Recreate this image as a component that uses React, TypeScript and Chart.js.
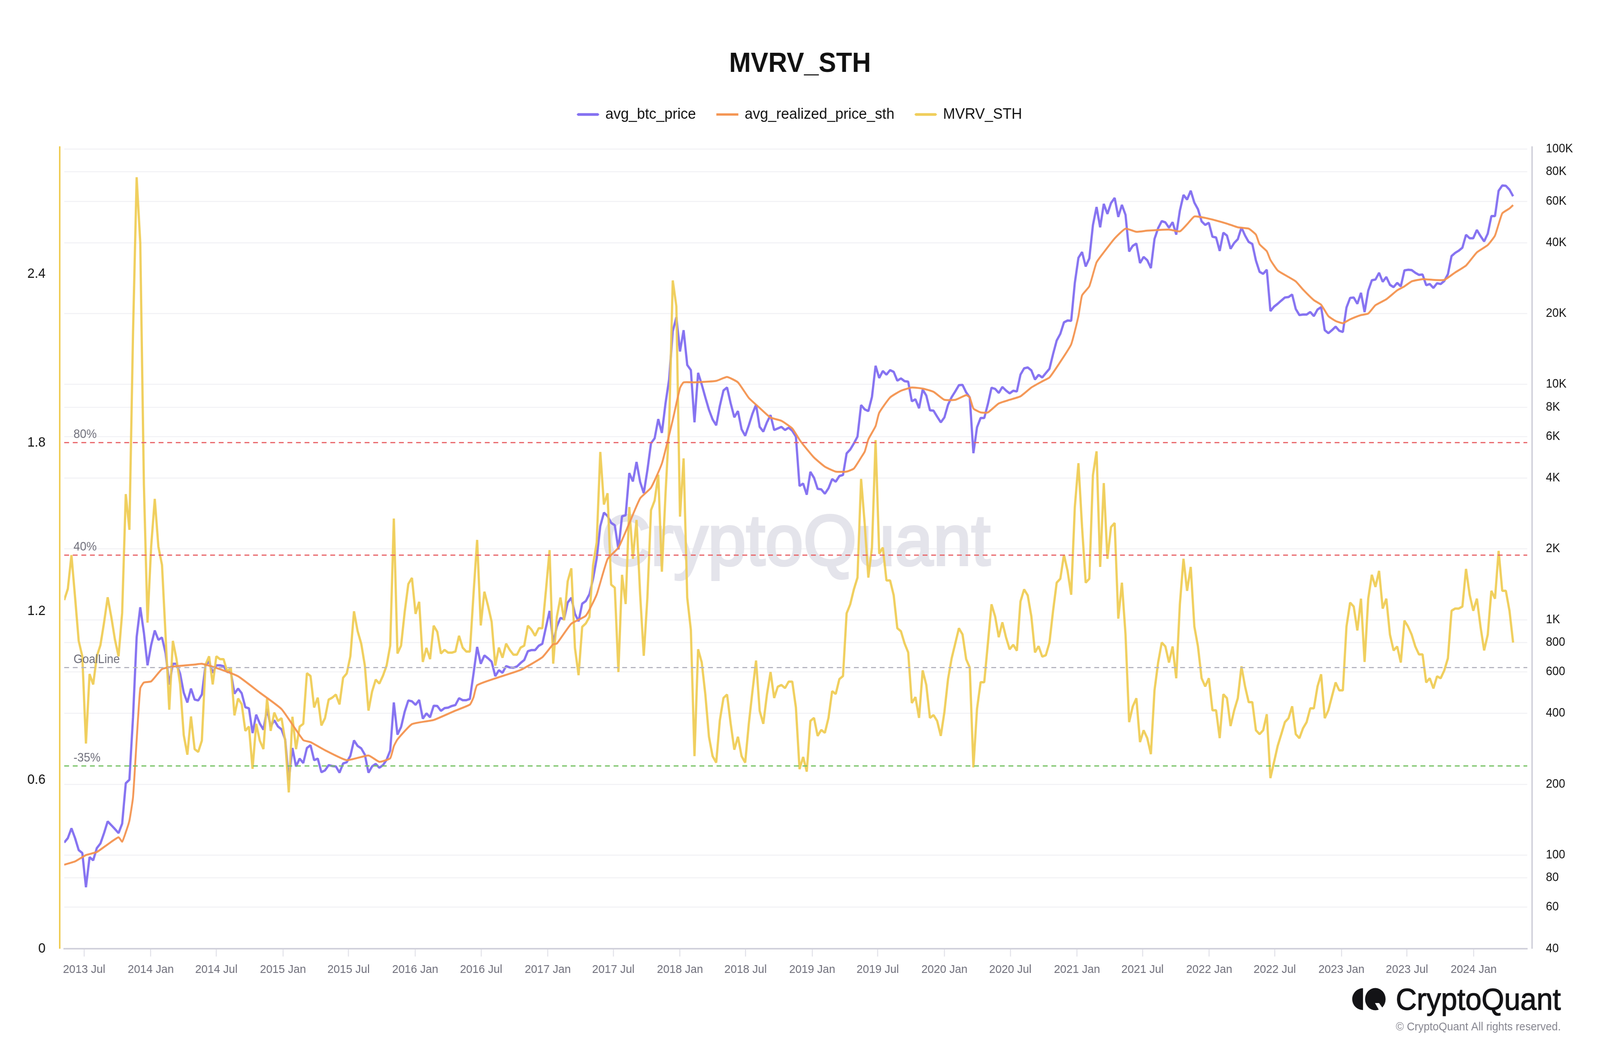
import React, { useEffect, useRef } from "react";
import { Chart, registerables } from "chart.js";

Chart.register(...registerables);

const FONT = '"Liberation Sans", Arial, sans-serif';
const TITLE = "MVRV_STH";
const FIRST_DAY = Date.UTC(2013, 4, 7);
const STEP_DAYS = 10;
const DAY_MS = 86400000;
const AXIS_X_MIN = Date.UTC(2013, 4, 7);
const AXIS_X_MAX = Date.UTC(2024, 4, 28);
const DESIGN_WIDTH = 4287;
const DESIGN_HEIGHT = 2700;

const xTickDates: [number, number][] = [
  [2013, 6], [2014, 0], [2014, 6], [2015, 0], [2015, 6], [2016, 0], [2016, 6], [2017, 0],
  [2017, 6], [2018, 0], [2018, 6], [2019, 0], [2019, 6], [2020, 0], [2020, 6], [2021, 0],
  [2021, 6], [2022, 0], [2022, 6], [2023, 0], [2023, 6], [2024, 0],
];
const leftTicks = [0, 0.6, 1.2, 1.8, 2.4];
const rightTicks = [40, 60, 80, 100, 200, 400, 600, 800, 1000, 2000, 4000, 6000, 8000, 10000, 20000, 40000, 60000, 80000, 100000];

// avg_btc_price, one reading every 10 days
const avgBtcPrice = [
  113, 118, 130, 118, 105, 102, 73, 98, 95, 107,
  112, 124, 139, 134, 129, 124, 136, 202, 209, 385,
  845, 1130, 880, 640, 780, 900, 822, 840, 720, 530,
  650, 650, 590, 490, 445, 510, 458, 454, 481, 640,
  665, 595, 640, 640, 635, 600, 600, 485, 510, 487,
  425, 420, 330, 395, 362, 341, 418, 352, 374, 352,
  342, 310, 208, 285, 238, 257, 246, 285, 293, 253,
  257, 225, 229, 241, 239, 238, 224, 245, 248, 264,
  307, 291, 284, 267, 224, 238, 244, 235, 241, 254,
  278, 445, 325, 350, 407, 454, 450, 435, 456, 380,
  400, 385, 431, 430, 410, 421, 423, 430, 434, 464,
  455, 455, 461, 590, 766, 650, 705, 686, 663, 576,
  610, 595, 635, 627, 625, 633, 655, 674, 735, 743,
  743, 775, 790, 930, 1090, 800, 935, 1018, 1005, 1183,
  1240, 1060, 985, 1170, 1200, 1285, 1490, 1820, 2500, 2850,
  2760, 2580, 2520, 1990, 2750, 2780, 4200, 3870, 4680, 3850,
  3450, 4320, 5620, 5900, 7120, 6220, 8300, 10500, 16800, 19300,
  13800, 17000, 12100, 11500, 6900, 11200, 10000, 8800, 7800, 7100,
  6700, 8100, 9420, 9700, 8300, 7250, 7700, 6450, 6050, 6700,
  7500, 8200, 6600, 6300, 6900, 7400, 6400, 6500, 6600, 6400,
  6550, 6350, 6000, 3700, 3790, 3400, 4250, 4010, 3600, 3580,
  3430, 3620, 3960, 3860, 4080, 4120, 5090, 5290, 5610, 6000,
  8170, 7830, 7700, 8850, 12000, 10650, 11400, 11000, 11500, 11300,
  10370, 10600, 10320, 10270, 8480, 8640, 7920, 9500, 8960, 7760,
  7730, 7290, 6900, 7240, 8200, 8830, 9340, 9920, 9950, 9250,
  8800, 5100, 6570, 7200, 7200, 8250, 9680, 9570, 9200, 9750,
  9420, 9160, 9400, 9330, 11000, 11700, 11800, 11470, 10490, 10970,
  10700, 11170, 11650, 13460, 15360, 16400, 18350, 18680, 18630, 27000,
  34500, 36500, 31700, 34300, 47500, 56700, 46500, 58500, 53000, 59000,
  62000, 51500, 57900, 52500, 36700, 38800, 39650, 32800, 34800, 33700,
  31200, 41500, 46100, 49400, 48800, 46300, 48900, 43300, 54700, 63800,
  61000, 66500, 59200, 55500, 49300, 47600, 48600, 42400, 42100, 36900,
  44100, 42900, 37700, 39900, 41400, 46400, 42900, 40300, 39500, 33600,
  30100, 29500, 30700, 20500, 21400, 22000, 22700, 23400, 23500, 24100,
  20900, 19700, 19800, 19800, 20300, 19500, 20800, 21300, 17000, 16500,
  17000, 17600, 16900, 16700, 21200, 23300, 23400, 22000, 24500, 20300,
  25000, 27700, 27900, 29800, 27300, 28600, 26500, 25900, 27000, 26100,
  30500, 30700, 30600, 29800, 29200, 29300, 26400, 26700, 25700, 26900,
  26700, 27500, 29400, 35100, 36200, 37000, 38100, 43200, 41800, 41800,
  45300, 42700, 40500, 43700, 51900, 51900, 66500, 70000, 69800, 67200,
  63000,
];

// MVRV_STH, one reading every 10 days
const mvrvSth = [
  1.24, 1.28, 1.4, 1.25, 1.095, 1.04, 0.73, 0.977, 0.94, 1.04,
  1.08, 1.16, 1.25, 1.18, 1.1, 1.04, 1.195, 1.617, 1.49, 2.19,
  2.744, 2.51, 1.65, 1.16, 1.43, 1.6, 1.43, 1.365, 1.11, 0.85,
  1.095, 1.03, 0.94, 0.76, 0.69, 0.826, 0.71, 0.7, 0.74, 1.01,
  1.04, 0.94, 1.04, 1.03, 1.03, 0.985, 1.0, 0.83, 0.89, 0.87,
  0.775, 0.79, 0.64, 0.8, 0.74, 0.71, 0.89, 0.775, 0.84, 0.81,
  0.82, 0.74, 0.556, 0.825, 0.71, 0.79, 0.8, 0.98, 0.97, 0.858,
  0.893, 0.794, 0.82, 0.886, 0.893, 0.904, 0.869, 0.964, 0.979, 1.04,
  1.2, 1.13, 1.085, 1.007, 0.847, 0.915, 0.957, 0.943, 0.971, 1.007,
  1.078, 1.53, 1.05, 1.078, 1.198, 1.297, 1.319, 1.191, 1.234, 1.02,
  1.07, 1.03, 1.149, 1.127, 1.05, 1.063, 1.053, 1.053, 1.057, 1.113,
  1.071, 1.057, 1.057, 1.262, 1.454, 1.15, 1.27, 1.22, 1.163, 1.007,
  1.071, 1.035, 1.085, 1.063, 1.046, 1.046, 1.071, 1.078, 1.149, 1.135,
  1.113, 1.14, 1.14, 1.276, 1.418, 1.014, 1.18, 1.249, 1.168, 1.307,
  1.353, 1.07, 0.973, 1.145, 1.157, 1.18, 1.364, 1.445, 1.767, 1.58,
  1.62, 1.295, 1.284, 0.984, 1.33, 1.226, 1.571, 1.387, 1.525, 1.26,
  1.042, 1.249, 1.56, 1.594, 1.686, 1.341, 1.617, 1.859, 2.377, 2.285,
  1.537, 1.744, 1.249, 1.134, 0.685, 1.065, 1.019, 0.904, 0.754, 0.685,
  0.662, 0.812, 0.892, 0.904, 0.8, 0.708, 0.754, 0.685, 0.662, 0.8,
  0.915, 1.025, 0.846, 0.8, 0.904, 0.984, 0.892, 0.932, 0.938, 0.927,
  0.95, 0.95, 0.858, 0.639, 0.682, 0.63, 0.81, 0.821, 0.757, 0.778,
  0.768, 0.821, 0.916, 0.906, 0.959, 0.97, 1.193, 1.225, 1.278, 1.32,
  1.671, 1.51, 1.32, 1.427, 1.809, 1.405, 1.427, 1.31, 1.31, 1.257,
  1.14, 1.129, 1.086, 1.054, 0.874, 0.895, 0.821, 0.99, 0.938, 0.821,
  0.831, 0.81, 0.757, 0.842, 0.959, 1.033, 1.086, 1.14, 1.118, 1.03,
  1.0, 0.645, 0.853, 0.948, 0.948, 1.086, 1.225, 1.182, 1.108, 1.161,
  1.108, 1.065, 1.081, 1.06, 1.235, 1.278, 1.257, 1.182, 1.054, 1.076,
  1.039, 1.044, 1.089, 1.202, 1.302, 1.316, 1.401, 1.344, 1.259, 1.571,
  1.727, 1.5, 1.302, 1.316, 1.684, 1.769, 1.358, 1.656, 1.387, 1.5,
  1.514, 1.174, 1.302, 1.117, 0.806, 0.862, 0.891, 0.735, 0.777, 0.749,
  0.692, 0.919, 1.018, 1.089, 1.075, 1.018, 1.075, 0.962, 1.224, 1.387,
  1.273, 1.358, 1.146, 1.075, 0.962, 0.933, 0.962, 0.848, 0.848, 0.749,
  0.905, 0.891, 0.792, 0.848, 0.891, 1.004, 0.933, 0.877, 0.877, 0.777,
  0.763, 0.777, 0.834, 0.607, 0.664, 0.721, 0.763, 0.806, 0.82, 0.862,
  0.763, 0.749, 0.784, 0.806, 0.855, 0.855, 0.933, 0.976, 0.82, 0.848,
  0.898, 0.947, 0.919, 0.919, 1.146, 1.231, 1.217, 1.132, 1.245, 1.02,
  1.245, 1.33, 1.287, 1.344, 1.21, 1.245, 1.117, 1.061, 1.075, 1.018,
  1.167, 1.146, 1.117, 1.075, 1.047, 1.047, 0.947, 0.962, 0.926, 0.969,
  0.962, 0.99, 1.033, 1.202, 1.21, 1.21, 1.217, 1.351, 1.259, 1.202,
  1.245, 1.146, 1.061, 1.117, 1.273, 1.245, 1.415, 1.273, 1.273, 1.202,
  1.089,
];

// avg_realized_price_sth: step number (10-day steps from the first day) and its reading
const realizedSteps = [
  0, 3, 6, 9, 12, 15, 16, 17, 18, 19, 20, 21, 22, 24, 27, 30, 36, 38, 42, 48,
  54, 60, 66, 68, 72, 78, 84, 87, 90, 91, 92, 96, 102, 108, 112, 113, 114, 120, 126, 132,
  135, 136, 140, 144, 147, 150, 153, 156, 159, 162, 165, 168, 170, 171, 174, 180, 183, 186, 189, 192,
  195, 198, 201, 203, 204, 207, 210, 213, 216, 218, 220, 221, 222, 224, 225, 228, 231, 234, 237, 240,
  243, 246, 249, 250, 251, 253, 255, 258, 261, 264, 267, 270, 272, 275, 278, 280, 281, 283, 285, 287,
  290, 293, 296, 299, 302, 305, 308, 310, 312, 315, 318, 321, 324, 327, 329, 330, 332, 333, 335, 338,
  340, 342, 345, 347, 349, 351, 353, 355, 358, 360, 362, 365, 368, 370, 372, 375, 378, 381, 384, 387,
  390, 393, 395, 397, 399, 400,
];
const realizedPrice = [
  91, 94, 100, 103, 111, 119, 114, 125, 140, 176, 308, 511, 541, 547, 617, 632, 645, 650, 624, 575,
  490, 417, 308, 302, 279, 253, 265, 249, 258, 290, 310, 360, 375, 411, 436, 468, 527, 570, 612, 693,
  787, 792, 962, 1040, 1280, 1810, 2024, 2570, 3280, 3640, 4610, 7060, 9650, 10200, 10200, 10350, 10750, 10200, 8760, 7940,
  7230, 7000, 6500, 5820, 5550, 4890, 4470, 4260, 4260, 4390, 4890, 5180, 5840, 6650, 7580, 8800, 9400, 9700, 9600, 9300,
  8600, 8600, 9000, 8800, 7900, 7600, 7600, 8300, 8600, 8900, 9700, 10300, 10700, 12470, 14800, 19500, 23900, 26100, 33000, 36400,
  41700, 45900, 44500, 45000, 45300, 45500, 44700, 47900, 51700, 51000, 49700, 48200, 46500, 45900, 43300, 39400, 36800, 33800, 30500, 28600,
  27400, 25300, 22800, 21800, 19500, 18600, 18200, 18900, 19700, 20000, 21700, 23000, 25100, 26100, 27400, 28000, 27800, 27800, 29900, 32000,
  36400, 39100, 42900, 53300, 55900, 57800,
];

const levelValues = [1.8, 1.4, 1.0, 0.65];
const levelLabels = ["80%", "40%", "GoalLine", "-35%"];
const levelColors = ["rgb(232,98,102)", "rgb(232,98,102)", "rgb(181,181,192)", "rgb(114,192,95)"];

const PURPLE = "rgba(127,108,240,0.95)";
const ORANGE = "rgba(243,146,78,0.95)";
const YELLOW = "rgba(239,203,80,0.92)";

const stepTime = (s: number) => FIRST_DAY + s * STEP_DAYS * DAY_MS;
const MONTHS = ["Jan", "Feb", "Mar", "Apr", "May", "Jun", "Jul", "Aug", "Sep", "Oct", "Nov", "Dec"];

const decorPlugin = {
  id: "decor",
  beforeInit(chart: any) {
    const fit = chart.legend.fit;
    chart.legend.fit = function () {
      fit.call(this);
      this.height += 52;
    };
  },
  beforeDatasetsDraw(chart: any) {
    const { ctx } = chart;
    ctx.save();
    ctx.fillStyle = "rgb(228,228,235)";
    ctx.strokeStyle = "rgb(228,228,235)";
    ctx.lineWidth = 6;
    ctx.font = `184px ${FONT}`;
    ctx.textAlign = "center";
    ctx.textBaseline = "alphabetic";
    ctx.fillText("CryptoQuant", 2132, 1446);
    ctx.strokeText("CryptoQuant", 2132, 1446);
    ctx.restore();
  },
  afterDraw(chart: any) {
    const { ctx, chartArea: a, scales } = chart;
    ctx.save();
    ctx.lineWidth = 4;
    ctx.strokeStyle = "rgb(239,203,80)";
    ctx.beginPath();
    ctx.moveTo(160, a.top);
    ctx.lineTo(160, a.bottom);
    ctx.stroke();
    ctx.strokeStyle = "rgb(209,209,219)";
    ctx.beginPath();
    ctx.moveTo(a.right + 13, a.top);
    ctx.lineTo(a.right + 13, a.bottom);
    ctx.stroke();

    ctx.fillStyle = "rgb(110,110,122)";
    ctx.font = `31px ${FONT}`;
    ctx.textAlign = "left";
    ctx.textBaseline = "middle";
    levelValues.forEach((v, i) => {
      ctx.fillText(levelLabels[i], a.left + 25, scales.y.getPixelForValue(v) - 20);
    });

    // brand block
    ctx.fillStyle = "rgb(19,19,22)";
    ctx.beginPath();
    ctx.ellipse(3652, 2557, 29, 28, 0, Math.PI / 2, Math.PI * 1.5);
    ctx.closePath();
    ctx.fill();
    ctx.beginPath();
    ctx.ellipse(3685, 2557, 27.5, 28.5, 0, 0, Math.PI * 2);
    ctx.fill();
    ctx.fillStyle = "#fff";
    ctx.beginPath();
    ctx.moveTo(3684, 2567);
    ctx.lineTo(3695, 2567);
    ctx.lineTo(3707, 2583);
    ctx.lineTo(3696, 2587);
    ctx.closePath();
    ctx.fill();
    ctx.fillStyle = "rgb(19,19,22)";
    ctx.strokeStyle = "rgb(19,19,22)";
    ctx.lineWidth = 1.5;
    ctx.font = `78px ${FONT}`;
    ctx.textAlign = "right";
    ctx.textBaseline = "alphabetic";
    ctx.fillText("CryptoQuant", 4182, 2584);
    ctx.strokeText("CryptoQuant", 4182, 2584);
    ctx.fillStyle = "rgb(133,133,143)";
    ctx.font = `29px ${FONT}`;
    ctx.fillText("\u00A9 CryptoQuant All rights reserved.", 4182, 2637);
    ctx.restore();
  },
};

export default function App() {
  const ref = useRef<HTMLCanvasElement | null>(null);
  const shownWidth = Math.min(window.innerWidth || DESIGN_WIDTH, DESIGN_WIDTH);
  useEffect(() => {
    const levelSets = levelValues.map((v, i) => ({
      label: levelLabels[i],
      data: [
        { x: AXIS_X_MIN, y: v },
        { x: AXIS_X_MAX, y: v },
      ],
      yAxisID: "y",
      borderColor: levelColors[i],
      backgroundColor: levelColors[i],
      borderWidth: 3,
      borderDash: [13, 10],
      pointRadius: 0,
      order: 0,
    }));
    const chart = new Chart(ref.current as HTMLCanvasElement, {
      type: "line",
      data: {
        datasets: [
          {
            label: "avg_btc_price",
            data: avgBtcPrice.map((y, i) => ({ x: stepTime(i), y })),
            yAxisID: "yPrice",
            borderColor: PURPLE,
            backgroundColor: PURPLE,
            borderWidth: 6,
            pointRadius: 0,
            borderJoinStyle: "bevel",
            order: 3,
          },
          {
            label: "avg_realized_price_sth",
            data: realizedPrice.map((y, i) => ({ x: stepTime(realizedSteps[i]), y })),
            yAxisID: "yPrice",
            borderColor: ORANGE,
            backgroundColor: ORANGE,
            borderWidth: 5,
            pointRadius: 0,
            tension: 0.15,
            order: 1,
          },
          {
            label: TITLE,
            data: mvrvSth.map((y, i) => ({ x: stepTime(i), y })),
            yAxisID: "y",
            borderColor: YELLOW,
            backgroundColor: YELLOW,
            borderWidth: 6,
            pointRadius: 0,
            borderJoinStyle: "bevel",
            order: 2,
          },
          ...levelSets,
        ] as any,
      },
      options: {
        animation: false,
        responsive: false,
        devicePixelRatio: 1,
        layout: { padding: { top: 7, left: 0, right: 0, bottom: 0 } },
        plugins: {
          title: {
            display: true,
            text: TITLE,
            color: "#111",
            font: { family: FONT, size: 70, weight: "bold", lineHeight: 1.2 },
            padding: { top: 116, bottom: 9.5 },
          },
          legend: {
            display: true,
            position: "top",
            labels: {
              color: "#111",
              font: { family: FONT, size: 39 },
              boxWidth: 54,
              boxHeight: 1,
              padding: 57,
              filter: (item: any) => !levelLabels.includes(item.text),
              sort: (a: any, b: any) => a.datasetIndex - b.datasetIndex,
            },
          },
          tooltip: { enabled: false },
        },
        scales: {
          x: {
            type: "linear",
            min: AXIS_X_MIN,
            max: AXIS_X_MAX,
            afterFit: (s: any) => {
              s.height = 272;
            },
            afterBuildTicks: (s: any) => {
              s.ticks = xTickDates.map(([y, m]) => ({ value: Date.UTC(y, m, 1) }));
            },
            ticks: {
              autoSkip: false,
              maxRotation: 0,
              minRotation: 0,
              padding: 16,
              color: "rgb(110,110,122)",
              font: { family: FONT, size: 30 },
              callback: (v: any) => {
                const d = new Date(v);
                return `${d.getUTCFullYear()} ${MONTHS[d.getUTCMonth()]}`;
              },
            },
            grid: {
              drawOnChartArea: false,
              drawTicks: true,
              tickLength: 20,
              tickWidth: 3,
              tickColor: "rgb(228,228,235)",
            },
            border: { display: true, color: "rgb(209,209,219)", width: 4 },
          },
          y: {
            type: "linear",
            position: "left",
            min: 0,
            max: 2.854,
            afterFit: (s: any) => {
              s.width = 172;
            },
            afterBuildTicks: (s: any) => {
              s.ticks = leftTicks.map((value) => ({ value }));
            },
            ticks: {
              padding: 50,
              color: "#111",
              font: { family: FONT, size: 35 },
              callback: (v: any) => String(v),
            },
            grid: { display: false, drawTicks: false },
            border: { display: false },
          },
          yPrice: {
            type: "logarithmic",
            position: "right",
            min: 40,
            max: 102700,
            afterFit: (s: any) => {
              s.width = 195;
            },
            afterBuildTicks: (s: any) => {
              s.ticks = rightTicks.map((value) => ({ value }));
            },
            ticks: {
              autoSkip: false,
              padding: 50,
              color: "#111",
              font: { family: FONT, size: 31 },
              callback: (v: any) => (v >= 1000 ? `${v / 1000}K` : String(v)),
            },
            grid: {
              display: true,
              drawTicks: false,
              color: "rgb(243,243,246)",
              lineWidth: 3,
            },
            border: { display: false },
          },
        },
      } as any,
      plugins: [decorPlugin],
    });
    return () => chart.destroy();
  }, []);
  return (
    <div style={{ position: "absolute", left: 0, top: 0, width: shownWidth, height: DESIGN_HEIGHT, background: "#fff", overflow: "hidden" }}>
      <canvas
        ref={ref}
        width={DESIGN_WIDTH}
        height={DESIGN_HEIGHT}
        style={{ display: "block", width: shownWidth, height: DESIGN_HEIGHT }}
      />
    </div>
  );
}
